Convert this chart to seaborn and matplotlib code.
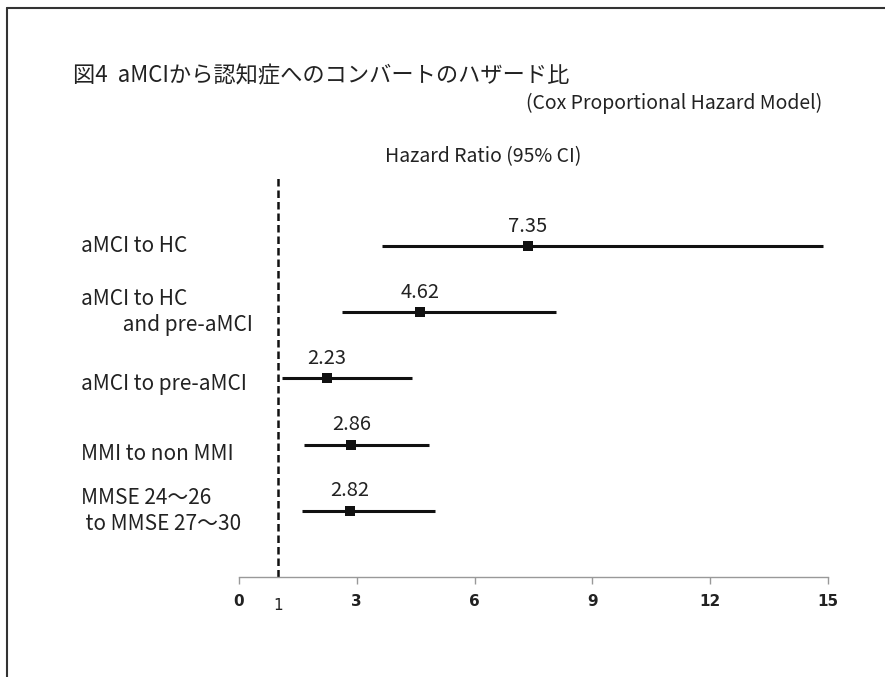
import matplotlib
matplotlib.use("Agg")
import matplotlib.pyplot as plt
import matplotlib.transforms as mtransforms
import seaborn as sns
import pandas as pd

# Hazard ratios with 95% confidence intervals
groups = [
    "aMCI to HC",
    "aMCI to HC\n         and pre-aMCI",
    "aMCI to pre-aMCI",
    "MMI to non MMI",
    "MMSE 24～26\n to MMSE 27～30",
]
hazard_ratio = [7.35, 4.62, 2.23, 2.86, 2.82]
ci_low = [3.64, 2.62, 1.10, 1.66, 1.60]
ci_high = [14.87, 8.07, 4.41, 4.84, 4.99]
x_ticks = [0, 3, 6, 9, 12, 15]
reference_line = 1

sns.set_style("white")
plt.rcParams["font.family"] = ["Noto Sans CJK JP", "DejaVu Sans"]

df = pd.DataFrame({"group": groups, "hr": hazard_ratio,
                   "lo": ci_low, "hi": ci_high})
df["row"] = range(len(df))

W, H = 885, 677
fig = plt.figure(figsize=(W / 100, H / 100), dpi=100)
ax = fig.add_axes([239 / W, 1 - 577 / H, (828 - 239) / W, (577 - 178) / H])

ink = "#111111"
text_col = "#222222"

# confidence intervals
ax.hlines(df["row"], df["lo"], df["hi"], color=ink, lw=2.2, zorder=2)
# point estimates
sns.scatterplot(data=df, x="hr", y="row", marker="s", s=60, color=ink,
                edgecolor=ink, linewidth=0, ax=ax, zorder=3, legend=False)

# value labels above each estimate
for r, v in zip(df["row"], df["hr"]):
    ax.annotate(f"{v:.2f}", (v, r), xytext=(0, 14.5), textcoords="offset points",
                ha="center", va="center", fontsize=14.5, color=text_col)

# line of no effect
ax.axvline(reference_line, color=ink, lw=1.8, ls=(0, (3, 1.6)), zorder=1)

ax.set_xlim(0, 15)
ax.set_ylim(5.0, -1.03)

# group labels on the left
trans = mtransforms.blended_transform_factory(fig.transFigure, ax.transData)
nudge = [0.0, 0.0, 0.09, 0.14, 0.0]
for r, g, n in zip(df["row"], df["group"], nudge):
    ax.text(81 / W, r + n, g, transform=trans, ha="left", va="center",
            fontsize=15, color=text_col, linespacing=1.25)

# axis styling
for side in ("top", "right", "left"):
    ax.spines[side].set_visible(False)
ax.spines["bottom"].set_color("#999999")
ax.spines["bottom"].set_linewidth(1.0)
ax.set_yticks([])
ax.set_xticks(x_ticks)
ax.set_xticklabels([str(t) for t in x_ticks], fontsize=11, fontweight="bold",
                   color=text_col, family="DejaVu Sans")
ax.tick_params(axis="x", direction="out", length=5, width=1.0,
               color="#999999", pad=7, bottom=True)
ax.set_xlabel("")
ax.set_ylabel("")
ax.text(reference_line, -0.072, "1", transform=mtransforms.blended_transform_factory(
    ax.transData, ax.transAxes), ha="center", va="center", fontsize=11,
    color=text_col, family="DejaVu Sans")

# titles
fig.text(73 / W, 1 - 76 / H, "図4  aMCIから認知症へのコンバートのハザード比",
         ha="left", va="center", fontsize=16, color=text_col)
fig.text(822 / W, 1 - 103 / H, "(Cox Proportional Hazard Model)",
         ha="right", va="center", fontsize=14, color=text_col)
fig.text(483 / W, 1 - 157 / H, "Hazard Ratio (95% CI)",
         ha="center", va="center", fontsize=14, color=text_col)

# frame edges
fig.add_artist(plt.Line2D([7 / W, 1], [1 - 8 / H, 1 - 8 / H],
                          transform=fig.transFigure, color="#333333", lw=1.5))
fig.add_artist(plt.Line2D([7 / W, 7 / W], [0, 1 - 8 / H],
                          transform=fig.transFigure, color="#333333", lw=1.5))

fig.savefig("out.png", dpi=100, facecolor="white")
